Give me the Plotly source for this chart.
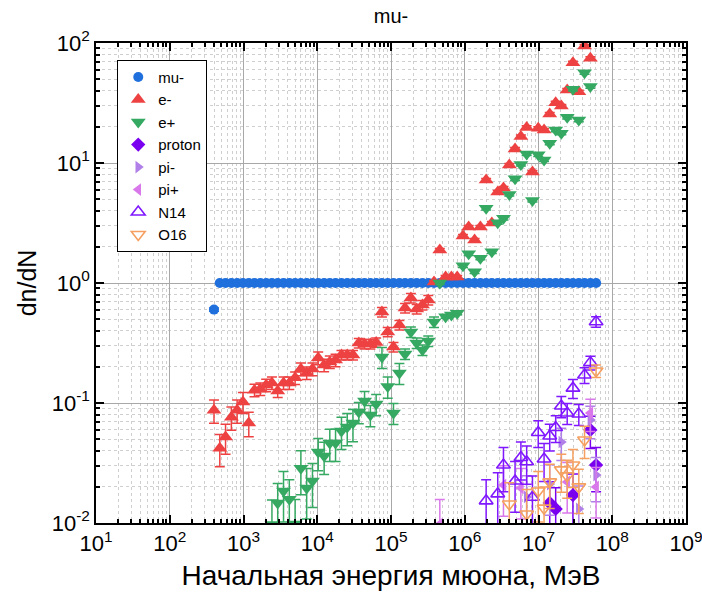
import plotly.graph_objects as go

# Muon energy grid, MeV (shared by all particle series)
energy = [398, 477, 571, 685, 820, 983, 1180, 1410, 1690, 2030,
          2430, 2910, 3490, 4180, 5010, 6000, 7190, 8610, 1.03e4, 1.24e4,
          1.48e4, 1.77e4, 2.13e4, 2.55e4, 3.05e4, 3.66e4, 4.38e4, 5.25e4, 6.29e4, 7.54e4,
          9.03e4, 1.08e5, 1.30e5, 1.55e5, 1.86e5, 2.23e5, 2.67e5, 3.20e5, 3.83e5, 4.59e5,
          5.50e5, 6.59e5, 7.90e5, 9.46e5, 1.13e6, 1.36e6, 1.63e6, 1.95e6, 2.33e6, 2.80e6,
          3.35e6, 4.02e6, 4.81e6, 5.77e6, 6.91e6, 8.28e6, 9.92e6, 1.19e7, 1.42e7, 1.71e7,
          2.04e7, 2.45e7, 2.93e7, 3.52e7, 4.21e7, 5.05e7, 6.04e7]

mu_minus = [0.60, 1.0, 1.0, 1.0, 1.0, 1.0, 1.0, 1.0, 1.0, 1.0,
            1.0, 1.0, 1.0, 1.0, 1.0, 1.0, 1.0, 1.0, 1.0, 1.0,
            1.0, 1.0, 1.0, 1.0, 1.0, 1.0, 1.0, 1.0, 1.0, 1.0,
            1.0, 1.0, 1.0, 1.0, 1.0, 1.0, 1.0, 1.0, 1.0, 1.0,
            1.0, 1.0, 1.0, 1.0, 1.0, 1.0, 1.0, 1.0, 1.0, 1.0,
            1.0, 1.0, 1.0, 1.0, 1.0, 1.0, 1.0, 1.0, 1.0, 1.0,
            1.0, 1.0, 1.0, 1.0, 1.0, 1.0, 1.0]
mu_minus_rel = [0.03, 0.0, 0.0, 0.0, 0.0, 0.0, 0.0, 0.0, 0.0, 0.0,
                0.0, 0.0, 0.0, 0.0, 0.0, 0.0, 0.0, 0.0, 0.0, 0.0,
                0.0, 0.0, 0.0, 0.0, 0.0, 0.0, 0.0, 0.0, 0.0, 0.0,
                0.0, 0.0, 0.0, 0.0, 0.0, 0.0, 0.0, 0.0, 0.0, 0.0,
                0.0, 0.0, 0.0, 0.0, 0.0, 0.0, 0.0, 0.0, 0.0, 0.0,
                0.0, 0.0, 0.0, 0.0, 0.0, 0.0, 0.0, 0.0, 0.0, 0.0,
                0.0, 0.0, 0.0, 0.0, 0.0, 0.0, 0.0]

e_minus = [0.087, 0.042, 0.052, 0.076, 0.087, 0.102, 0.068, 0.128, 0.131, 0.141,
           0.147, 0.126, 0.147, 0.147, 0.162, 0.192, 0.178, 0.192, 0.237, 0.207,
           0.220, 0.228, 0.251, 0.251, 0.251, 0.316, 0.310, 0.310, 0.320, 0.573,
           0.391, 0.293, 0.447, 0.619, 0.750, 0.607, 0.656, 0.721, 1.02, 1.88,
           1.12, 1.12, 1.12, 2.46, 2.93, 2.28, 2.93, 7.21, 3.16, 5.73,
           6.19, 9.62, 13.1, 16.6, 19.8, 8.41, 19.5, 18.8, 25.6, 31.8,
           29.9, 40.6, 68.5, 39.3, 94.4, 74.6, None]
e_minus_rel = [0.22, 0.30, 0.28, 0.22, 0.22, 0.20, 0.23, 0.12, 0.12, 0.12,
               0.12, 0.12, 0.12, 0.12, 0.12, 0.12, 0.12, 0.12, 0.12, 0.12,
               0.12, 0.12, 0.09, 0.09, 0.09, 0.09, 0.09, 0.09, 0.09, 0.09,
               0.09, 0.09, 0.09, 0.09, 0.09, 0.09, 0.09, 0.09, 0.03, 0.03,
               0.03, 0.03, 0.03, 0.03, 0.03, 0.03, 0.03, 0.03, 0.03, 0.03,
               0.03, 0.03, 0.03, 0.03, 0.03, 0.03, 0.03, 0.03, 0.03, 0.03,
               0.03, 0.03, 0.03, 0.03, 0.03, 0.03, 0.03]

e_plus = [None, None, None, None, None, None, None, None, None, None,
          0.0097, 0.0147, 0.0185, 0.0158, 0.0098, 0.0286, 0.0196, 0.0224, 0.039, 0.0362,
          0.0464, 0.0464, 0.0585, 0.063, 0.068, 0.0841, 0.104, 0.0794, 0.098, 0.242,
          0.137, 0.0826, 0.178, 0.256, 0.391, 0.316, 0.277, 0.329, 0.473, 1.0,
          0.524, 0.541, 0.56, 1.39, 1.75, 1.24, 1.61, 4.19, 1.82, 3.18,
          3.46, 5.47, 7.38, 9.72, 11.9, 4.87, 11.7, 10.6, 14.6, 18.8,
          17.7, 24.0, 41.1, 22.8, 56.6, 43.3, None]
e_plus_rel = [0.0, 0.0, 0.0, 0.0, 0.0, 0.0, 0.0, 0.0, 0.0, 0.0,
              0.60, 0.45, 0.45, 0.45, 0.60, 0.40, 0.45, 0.40, 0.30, 0.30,
              0.30, 0.30, 0.30, 0.30, 0.30, 0.20, 0.20, 0.20, 0.20, 0.20,
              0.20, 0.20, 0.20, 0.10, 0.10, 0.10, 0.10, 0.10, 0.10, 0.03,
              0.03, 0.03, 0.03, 0.03, 0.03, 0.03, 0.03, 0.03, 0.03, 0.03,
              0.03, 0.03, 0.03, 0.03, 0.03, 0.03, 0.03, 0.03, 0.03, 0.03,
              0.03, 0.03, 0.03, 0.03, 0.03, 0.03, 0.03]

# Rarer secondaries: grid indices, values and relative errors
proton_idx = [58, 59, 62, 65, 66]
proton = [0.0147, 0.0131, 0.0171, 0.0596, 0.0304]
proton_rel = [0.5, 0.5, 0.5, 0.3, 0.4]

pi_minus_idx = [54, 58, 60, 63, 65, 66]
pi_minus = [0.0165, 0.0211, 0.0473, 0.0131, 0.0721, 0.0251]
pi_minus_rel = [0.5, 0.45, 0.3, 0.55, 0.3, 0.4]

pi_plus_idx = [39, 50, 53, 61, 65, 66]
pi_plus = [0.0098, 0.0207, 0.0196, 0.022, 0.0826, 0.020]
pi_plus_rel = [0.6, 0.45, 0.45, 0.45, 0.3, 0.45]

n14_idx = [47, 49, 50, 52, 53, 54, 55, 56, 57, 58, 59, 60, 61, 62, 63, 64, 65, 66]
n14 = [0.0153, 0.0175, 0.0304, 0.0224, 0.0351, 0.0324, 0.0164, 0.0568, 0.0341, 0.0531,
       0.0625, 0.0944, 0.0826, 0.133, 0.081, 0.171, 0.217, 0.476]
n14_rel = [0.5, 0.5, 0.4, 0.45, 0.35, 0.35, 0.5, 0.25, 0.35, 0.25,
           0.25, 0.2, 0.2, 0.18, 0.2, 0.15, 0.13, 0.1]

o16_idx = [51, 54, 56, 57, 58, 60, 61, 62, 63, 64, 66]
o16 = [0.0144, 0.0119, 0.0185, 0.0133, 0.022, 0.0277, 0.0247, 0.0304, 0.020, 0.0492, 0.185]
o16_rel = [0.5, 0.6, 0.45, 0.5, 0.4, 0.35, 0.35, 0.35, 0.4, 0.3, 0.12]

x_tick_pows = [1, 2, 3, 4, 5, 6, 7, 8, 9]
y_tick_pows = [-2, -1, 0, 1, 2]

FONT = "Liberation Sans, Arial, sans-serif"


def grid_series(values, rel):
    xs, ys, es = [], [], []
    for e, v, r in zip(energy, values, rel):
        if v is not None:
            xs.append(e)
            ys.append(v)
            es.append(v * r)
    return xs, ys, es


def sparse_series(idx, values, rel):
    return [energy[i] for i in idx], values, [v * r for v, r in zip(values, rel)]


series = [
    ("mu-", grid_series(mu_minus, mu_minus_rel), "circle", "#1f6fdc", 10, 0),
    ("e-", grid_series(e_minus, e_minus_rel), "triangle-up", "#ee4242", 13, 0),
    ("e+", grid_series(e_plus, e_plus_rel), "triangle-down", "#35a862", 13, 0),
    ("proton", sparse_series(proton_idx, proton, proton_rel), "diamond", "#7a00f0", 11, 0),
    ("pi-", sparse_series(pi_minus_idx, pi_minus, pi_minus_rel), "triangle-right", "#b080e8", 11, 0),
    ("pi+", sparse_series(pi_plus_idx, pi_plus, pi_plus_rel), "triangle-left", "#d978ea", 11, 0),
    ("N14", sparse_series(n14_idx, n14, n14_rel), "triangle-up-open", "#8018ff", 12, 1.6),
    ("O16", sparse_series(o16_idx, o16, o16_rel), "triangle-down-open", "#f5a060", 12, 1.6),
]

fig = go.Figure()
for name, (xs, ys, es), symbol, color, size, lw in series:
    marker = dict(symbol=symbol, color=color, size=size)
    if lw:
        marker["line"] = dict(color=color, width=lw)
    else:
        marker["line"] = dict(width=0)
    fig.add_trace(go.Scatter(
        x=xs, y=ys, mode="markers", name=name, marker=marker,
        error_y=dict(type="data", array=es, symmetric=True, color=color,
                     thickness=1.5, width=5),
    ))

minor_x = [m * 10 ** p for p in range(1, 9) for m in range(2, 10)]
minor_y = [m * 10 ** p for p in range(-2, 2) for m in range(2, 10)]

axis_common = dict(
    type="log", showline=True, linecolor="black", linewidth=1.5, mirror="ticks",
    ticks="inside", ticklen=8, tickwidth=1.5, tickcolor="black",
    showgrid=True, gridcolor="#a8a8a8", gridwidth=1, zeroline=False,
    ticklabeloverflow="allow",
    tickfont=dict(family=FONT, size=22, color="black"),
)

fig.update_xaxes(
    **axis_common, range=[1, 9], tickmode="array",
    tickvals=[10 ** p for p in x_tick_pows],
    ticktext=[f"10<sup>{p}</sup>" for p in x_tick_pows],
    minor=dict(tickmode="array", tickvals=minor_x, ticks="inside", ticklen=4,
               tickcolor="black", showgrid=True, gridcolor="#cfcfcf", griddash="dot"),
    title=dict(text="Начальная энергия мюона, МэВ", standoff=10,
               font=dict(family=FONT, size=28, color="black")),
)
fig.update_yaxes(
    **axis_common, range=[-2, 2], tickmode="array",
    tickvals=[10 ** p for p in y_tick_pows],
    ticktext=[f"10<sup>{p}</sup>" for p in y_tick_pows],
    minor=dict(tickmode="array", tickvals=minor_y, ticks="inside", ticklen=4,
               tickcolor="black", showgrid=True, gridcolor="#cfcfcf", griddash="dot"),
    title=dict(text="dn/dN", standoff=8,
               font=dict(family=FONT, size=25, color="black")),
)

fig.update_layout(
    width=702, height=598,
    margin=dict(l=96, r=16, t=43, b=75, autoexpand=False),
    plot_bgcolor="white", paper_bgcolor="white",
    font=dict(family=FONT, color="black"),
    title=dict(text="mu-", x=0.5, xref="paper", y=1 - 16 / 598, yref="container",
               yanchor="middle", font=dict(family=FONT, size=20, color="black")),
    legend=dict(x=0.036, y=0.965, xanchor="left", yanchor="top",
                bgcolor="white", bordercolor="black", borderwidth=1,
                font=dict(family=FONT, size=15, color="black"),
                itemwidth=30, tracegroupgap=0),
    showlegend=True,
)

fig.write_html("out.html")
